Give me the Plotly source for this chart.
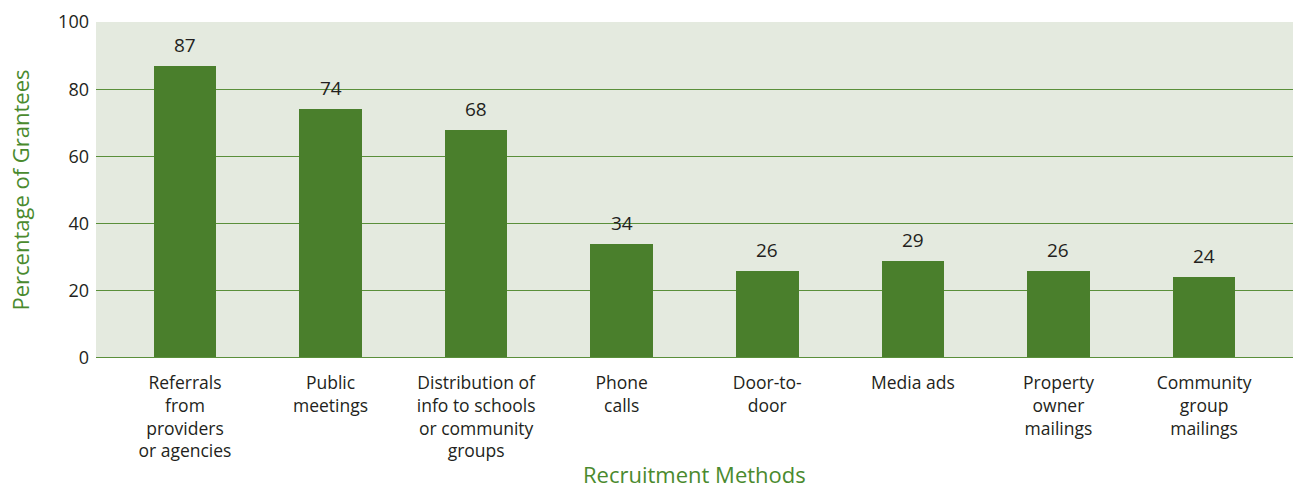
import plotly.graph_objects as go

categories = [
    "Referrals<br>from<br>providers<br>or agencies",
    "Public<br>meetings",
    "Distribution of<br>info to schools<br>or community<br>groups",
    "Phone<br>calls",
    "Door-to-<br>door",
    "Media ads",
    "Property<br>owner<br>mailings",
    "Community<br>group<br>mailings",
]
values = [87, 74, 68, 34, 26, 29, 26, 24]
y_ticks = [0, 20, 40, 60, 80, 100]

FONT = "Open Sans"
GREEN = "#4a7f2c"
TEXT = "#231f20"
TITLE_GREEN = "#4a8a2e"

xs = list(range(len(categories)))

fig = go.Figure()
fig.add_trace(go.Bar(
    x=xs,
    y=values,
    width=0.43,
    marker=dict(color=GREEN, line=dict(width=0)),
))

for x, v in zip(xs, values):
    fig.add_annotation(x=x, y=v, text=str(v), showarrow=False, yanchor="bottom",
                       yshift=6, font=dict(family=FONT, size=19, color=TEXT))

fig.add_annotation(xref="paper", yref="paper", x=0.5, y=-0.392, yanchor="bottom",
                   text="Recruitment Methods", showarrow=False, borderpad=0,
                   font=dict(family=FONT, size=22, color=TITLE_GREEN))

fig.update_layout(
    width=1293, height=491,
    margin=dict(l=96, r=0, t=22, b=133),
    paper_bgcolor="white",
    plot_bgcolor="#e4eadf",
    showlegend=False,
    bargap=0,
    xaxis=dict(
        range=[-0.611, 7.611],
        tickmode="array",
        tickvals=xs,
        ticktext=categories,
        tickfont=dict(family=FONT, size=17.5, color=TEXT),
        showgrid=False,
        zeroline=False,
        showline=False,
        ticks="outside",
        ticklen=9,
        tickcolor="rgba(0,0,0,0)",
        automargin=False,
    ),
    yaxis=dict(
        range=[0, 100],
        tickvals=y_ticks,
        tickfont=dict(family=FONT, size=18, color=TEXT),
        showgrid=True,
        gridcolor="#5a8f3a",
        gridwidth=1.3,
        zeroline=False,
        showline=False,
        ticks="",
        ticklabelstandoff=6,
        automargin=False,
        title=dict(text="Percentage of Grantees", font=dict(family=FONT, size=22, color=TITLE_GREEN), standoff=22),
    ),
)

fig.add_shape(type="line", xref="paper", yref="y", x0=0, x1=1, y0=0, y1=0,
              line=dict(color="#5a8f3a", width=2))

fig.write_html("out.html")
